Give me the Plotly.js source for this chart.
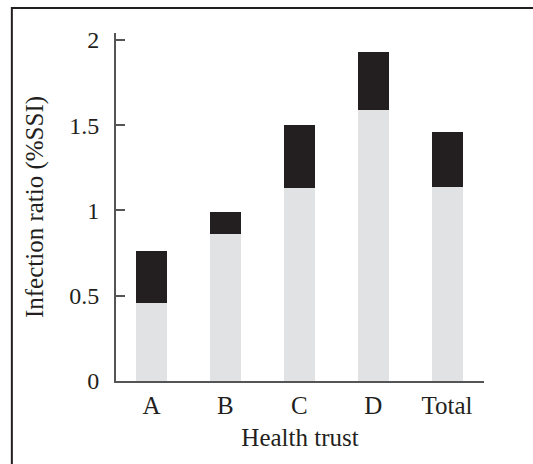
<!DOCTYPE html>
<html>
<head>
<meta charset="utf-8">
<script src="https://cdn.plot.ly/plotly-3.0.1.min.js"></script>
<style>html,body{margin:0;padding:0;background:#fff;}#chart{width:533px;height:464px;}</style>
</head>
<body>
<div id="chart"></div>
<script>
const categories = ["A", "B", "C", "D", "Total"];
const lowerValues = [0.46, 0.86, 1.13, 1.59, 1.14];
const totalValues = [0.765, 0.99, 1.50, 1.93, 1.46];
const upperValues = totalValues.map((t, i) => +(t - lowerValues[i]).toFixed(3));
const yTickVals = [0, 0.5, 1, 1.5, 2];
const yTickText = ["0", "0.5", "1", "1.5", "2"];

const font = {family: "Liberation Serif, Times New Roman, serif", color: "#231f20"};

const traces = [
  {type: "bar", x: categories, y: lowerValues, marker: {color: "#e1e2e4", line: {width: 0}}, width: 0.42, hoverinfo: "skip"},
  {type: "bar", x: categories, y: upperValues, marker: {color: "#231f20", line: {width: 0}}, width: 0.42, hoverinfo: "skip"}
];

const layout = {
  width: 533, height: 464,
  margin: {l: 116, r: 49, t: 33, b: 83},
  barmode: "stack",
  showlegend: false,
  paper_bgcolor: "#fff", plot_bgcolor: "#fff",
  font: Object.assign({size: 24}, font),
  xaxis: {
    range: [-0.48, 4.5],
    showgrid: false, zeroline: false,
    showline: true, linecolor: "#555", linewidth: 2,
    ticks: "", tickfont: Object.assign({size: 25}, font),
    ticklabelstandoff: 1,
    title: {text: "Health trust", font: Object.assign({size: 25}, font), standoff: 10}
  },
  yaxis: {
    range: [0, 2.04],
    tickvals: yTickVals, ticktext: yTickText,
    showgrid: false, zeroline: false,
    showline: true, linecolor: "#555", linewidth: 2,
    ticks: "inside", ticklen: 9, tickwidth: 2, tickcolor: "#555",
    tickfont: Object.assign({size: 24}, font),
    ticklabelstandoff: 10,
    title: {text: "Infection ratio (%SSI)", font: Object.assign({size: 25}, font), standoff: 18}
  },
  shapes: [
    {type: "rect", xref: "paper", yref: "paper", x0: -0.283, x1: 1.2, y0: -0.3, y1: 1.072,
     line: {color: "#231f20", width: 2}, fillcolor: "rgba(0,0,0,0)", layer: "above"}
  ]
};

Plotly.newPlot("chart", traces, layout, {displayModeBar: false, staticPlot: true});
</script>
</body>
</html>
